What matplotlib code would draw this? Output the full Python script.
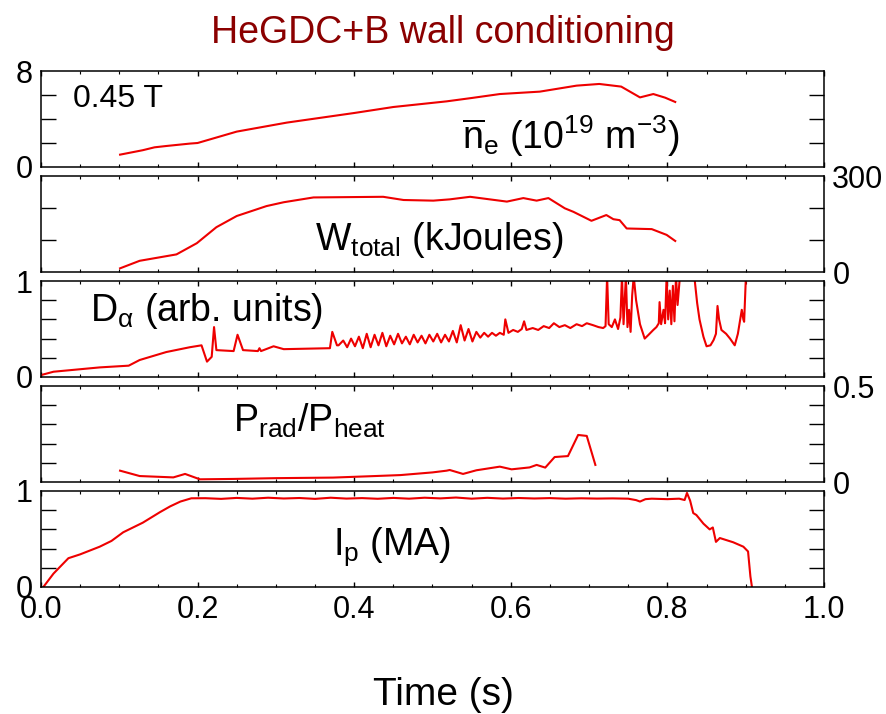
import matplotlib
matplotlib.use("Agg")
import matplotlib.pyplot as plt

plt.rcParams['font.family'] = ['Liberation Sans', 'DejaVu Sans']
plt.rcParams['mathtext.fontset'] = 'custom'
plt.rcParams['mathtext.rm'] = 'Liberation Sans'
plt.rcParams['mathtext.it'] = 'Liberation Sans:italic'
plt.rcParams['mathtext.bf'] = 'Liberation Sans:bold'

# ---------------- data ----------------
title = "HeGDC+B wall conditioning"
xlabel = "Time (s)"
field_label = "0.45 T"
x_major = [0.0, 0.2, 0.4, 0.6, 0.8, 1.0]
x_major_labels = ["0.0", "0.2", "0.4", "0.6", "0.8", "1.0"]
x_minor = [0.05, 0.1, 0.15, 0.25, 0.3, 0.35, 0.45, 0.5, 0.55, 0.65, 0.7, 0.75, 0.85, 0.9, 0.95]

ne_t = [0.101, 0.13, 0.145, 0.16, 0.19, 0.2, 0.25, 0.314, 0.4, 0.45, 0.518, 0.55,
        0.586, 0.637, 0.684, 0.713, 0.741, 0.765, 0.782, 0.797, 0.81]
ne_v = [1.03, 1.4, 1.64, 1.75, 1.95, 2.0, 2.95, 3.7, 4.5, 5.0, 5.47, 5.75,
        6.08, 6.28, 6.78, 6.92, 6.7, 5.8, 6.08, 5.78, 5.42]

w_t = [0.101, 0.126, 0.173, 0.199, 0.224, 0.25, 0.288, 0.31, 0.348, 0.437, 0.463,
       0.501, 0.522, 0.548, 0.595, 0.616, 0.633, 0.648, 0.669, 0.68, 0.703, 0.722,
       0.731, 0.739, 0.748, 0.78, 0.799, 0.81]
w_v = [11.5, 35, 55, 90, 140, 175, 206, 218, 233, 235, 225, 223, 227, 235, 220, 231,
       223, 231, 199, 188, 160, 178, 165, 162, 136, 134, 116, 97]

da_t = [0.0, 0.016, 0.075, 0.112, 0.126, 0.16, 0.19, 0.205, 0.212, 0.218, 0.221, 0.224,
        0.246, 0.251, 0.258, 0.277, 0.279, 0.281, 0.297, 0.31, 0.369, 0.372, 0.378,
        0.380, 0.386, 0.391, 0.396, 0.401, 0.406, 0.411, 0.416, 0.421, 0.426, 0.431,
        0.436, 0.441, 0.446, 0.451, 0.456, 0.461, 0.466, 0.471, 0.476, 0.481, 0.486,
        0.491, 0.496, 0.501, 0.506, 0.511, 0.516, 0.521, 0.526, 0.531, 0.536, 0.541,
        0.546, 0.551, 0.556, 0.561, 0.566, 0.571, 0.576, 0.581, 0.586, 0.591, 0.593,
        0.597, 0.603, 0.609, 0.614, 0.617, 0.620, 0.628, 0.635, 0.642, 0.649, 0.655,
        0.662, 0.669, 0.676, 0.684, 0.691, 0.697, 0.705, 0.712, 0.718, 0.721,
        0.723, 0.725, 0.729, 0.733, 0.737, 0.740, 0.742, 0.744, 0.747, 0.749, 0.751,
        0.753, 0.755, 0.757, 0.760, 0.765, 0.771, 0.776, 0.782, 0.786, 0.789, 0.790,
        0.792, 0.795, 0.797, 0.799, 0.801, 0.803, 0.805, 0.807, 0.809, 0.811, 0.813,
        0.816, 0.820, 0.830, 0.835, 0.838, 0.841, 0.846, 0.850, 0.855, 0.859, 0.862,
        0.864, 0.866, 0.869, 0.875, 0.880, 0.886, 0.890, 0.895, 0.897, 0.898, 0.901]
da_v = [0.02, 0.055, 0.10, 0.118, 0.177, 0.26, 0.31, 0.33, 0.16, 0.21, 0.52, 0.28,
        0.27, 0.44, 0.28, 0.27, 0.30, 0.27, 0.32, 0.29, 0.30, 0.47, 0.33,
        0.33, 0.38, 0.31, 0.40, 0.32, 0.42, 0.30, 0.45, 0.31, 0.44, 0.33,
        0.46, 0.32, 0.43, 0.34, 0.45, 0.35, 0.42, 0.34, 0.44, 0.36, 0.43,
        0.35, 0.44, 0.37, 0.45, 0.36, 0.44, 0.37, 0.48, 0.36, 0.54, 0.38,
        0.50, 0.37, 0.47, 0.41, 0.46, 0.42, 0.46, 0.43, 0.46, 0.44, 0.60,
        0.46, 0.49, 0.47, 0.50, 0.58, 0.49, 0.51, 0.49, 0.53, 0.51, 0.56,
        0.52, 0.54, 0.51, 0.55, 0.53, 0.56, 0.54, 0.52, 0.51, 0.53,
        1.05, 0.55, 0.52, 0.60, 0.50, 0.62, 1.05, 0.55, 1.05, 0.52, 0.70,
        0.47, 0.85, 1.05, 0.80, 0.55, 0.40, 0.44, 0.49, 0.52, 0.56, 0.78,
        0.55, 0.70, 0.56, 1.05, 0.60, 0.90, 0.55, 0.95, 0.58, 1.05, 0.75,
        1.05, 1.2, 1.2, 1.0, 0.77, 0.60, 0.42, 0.32, 0.33, 0.385, 0.45,
        0.74, 0.60, 0.49, 0.45, 0.40, 0.33, 0.45, 0.70, 0.60, 0.575, 1.2]

pr_t = [0.101, 0.126, 0.169, 0.184, 0.203, 0.246, 0.30, 0.373, 0.42, 0.459, 0.50,
        0.518, 0.522, 0.539, 0.556, 0.586, 0.601, 0.624, 0.633, 0.644, 0.656, 0.673,
        0.686, 0.697, 0.708]
pr_v = [0.059, 0.031, 0.024, 0.042, 0.014, 0.016, 0.02, 0.023, 0.03, 0.036, 0.05,
        0.059, 0.0625, 0.042, 0.061, 0.08, 0.066, 0.076, 0.089, 0.075, 0.13, 0.135,
        0.245, 0.24, 0.089]

ip_t = [0.003, 0.016, 0.035, 0.05, 0.075, 0.09, 0.105, 0.13, 0.152, 0.165, 0.178,
        0.192, 0.21, 0.23, 0.25, 0.27, 0.29, 0.31, 0.33, 0.35, 0.37, 0.39, 0.41,
        0.43, 0.45, 0.47, 0.49, 0.51, 0.53, 0.55, 0.57, 0.59, 0.61, 0.63, 0.65,
        0.67, 0.69, 0.71, 0.73, 0.75, 0.76, 0.765, 0.772, 0.78, 0.80, 0.815, 0.822,
        0.825, 0.829, 0.833, 0.837, 0.846, 0.854, 0.858, 0.862, 0.867, 0.884,
        0.897, 0.903, 0.906, 0.908]
ip_v = [0.0, 0.14, 0.30, 0.34, 0.42, 0.48, 0.57, 0.67, 0.78, 0.84, 0.89,
        0.924, 0.925, 0.918, 0.928, 0.92, 0.93, 0.922, 0.927, 0.918, 0.93, 0.921,
        0.926, 0.919, 0.928, 0.92, 0.93, 0.923, 0.932, 0.92, 0.929, 0.921, 0.927,
        0.922, 0.926, 0.92, 0.924, 0.921, 0.923, 0.92, 0.905, 0.89, 0.915, 0.92,
        0.915, 0.92, 0.906, 0.98, 0.90, 0.77, 0.75, 0.66, 0.60, 0.62, 0.47, 0.51,
        0.466, 0.42, 0.37, 0.11, 0.0]

panels = [
    dict(t=ne_t, v=ne_v, ylim=(0, 8), ylabels=["0", "8"], minor=[2, 4, 6], side="left",
         label=r'$\mathregular{\overline{n}_e\ (10^{19}\ m^{-3})}$', lx=462, ly=149),
    dict(t=w_t, v=w_v, ylim=(0, 300), ylabels=["0", "300"], minor=[100, 200], side="right",
         label=r'$\mathregular{W_{total}}$ (kJoules)', lx=315, ly=250),
    dict(t=da_t, v=da_v, ylim=(0, 1), ylabels=["0", "1"], minor=[0.2, 0.4, 0.6, 0.8], side="left",
         label=r'$\mathregular{D_{\alpha}}$ (arb. units)', lx=90, ly=321),
    dict(t=pr_t, v=pr_v, ylim=(0, 0.5), ylabels=["0", "0.5"], minor=[0.1, 0.2, 0.3, 0.4], side="right",
         label=r'$\mathregular{P_{rad}/P_{heat}}$', lx=233, ly=432),
    dict(t=ip_t, v=ip_v, ylim=(0, 1), ylabels=["0", "1"], minor=[0.2, 0.4, 0.6, 0.8], side="left",
         label=r'$\mathregular{I_p}$ (MA)', lx=333, ly=555),
]

# ---------------- layout ----------------
W, H = 886, 714
fig = plt.figure(figsize=(W / 100, H / 100), dpi=100)
ax_left, ax_right = 41, 824
tops = [71, 176, 281, 386, 491]
ph = 96
line_color = '#ee0000'

def fx(px):
    return px / W

def fy(py):
    return 1 - py / H

for i, p in enumerate(panels):
    top = tops[i]
    last = (i == len(panels) - 1)
    ax = fig.add_axes([fx(ax_left), fy(top + ph), (ax_right - ax_left) / W, ph / H])
    ax.plot(p['t'], p['v'], color=line_color, lw=1.5)
    ax.set_xlim(0, 1.0)
    ax.set_ylim(*p['ylim'])
    ax.set_yticks(list(p['ylim']))
    ax.set_yticklabels(p['ylabels'])
    ax.set_yticks(p['minor'], minor=True)
    ax.set_xticks(x_major)
    ax.set_xticklabels(x_major_labels if last else [])
    ax.set_xticks(x_minor, minor=True)
    for s in ax.spines.values():
        s.set_linewidth(1.1)
    ax.tick_params(axis='y', which='major', length=0, pad=6, labelsize=22,
                   left=True, right=True,
                   labelleft=(p['side'] == 'left'), labelright=(p['side'] == 'right'))
    ax.tick_params(axis='y', which='minor', length=10.8, width=1.0, direction='in',
                   left=True, right=True)
    ax.tick_params(axis='x', which='major', length=3.5, width=1.0, direction='in',
                   top=True, bottom=True, labelsize=22, pad=6, labelbottom=last)
    ax.tick_params(axis='x', which='minor', length=2.0, width=0.8, direction='in',
                   top=True, bottom=True)
    fig.text(fx(p['lx']), fy(p['ly']), p['label'], fontsize=27, ha='left', va='baseline')

fig.text(fx(73), fy(107), field_label, fontsize=23, ha='left', va='baseline')
fig.text(fx(443), fy(43), title, fontsize=27, color='#8b0000', ha='center', va='baseline')
fig.text(fx(443), fy(705), xlabel, fontsize=28, ha='center', va='baseline')

fig.savefig('out.png', dpi=100)
